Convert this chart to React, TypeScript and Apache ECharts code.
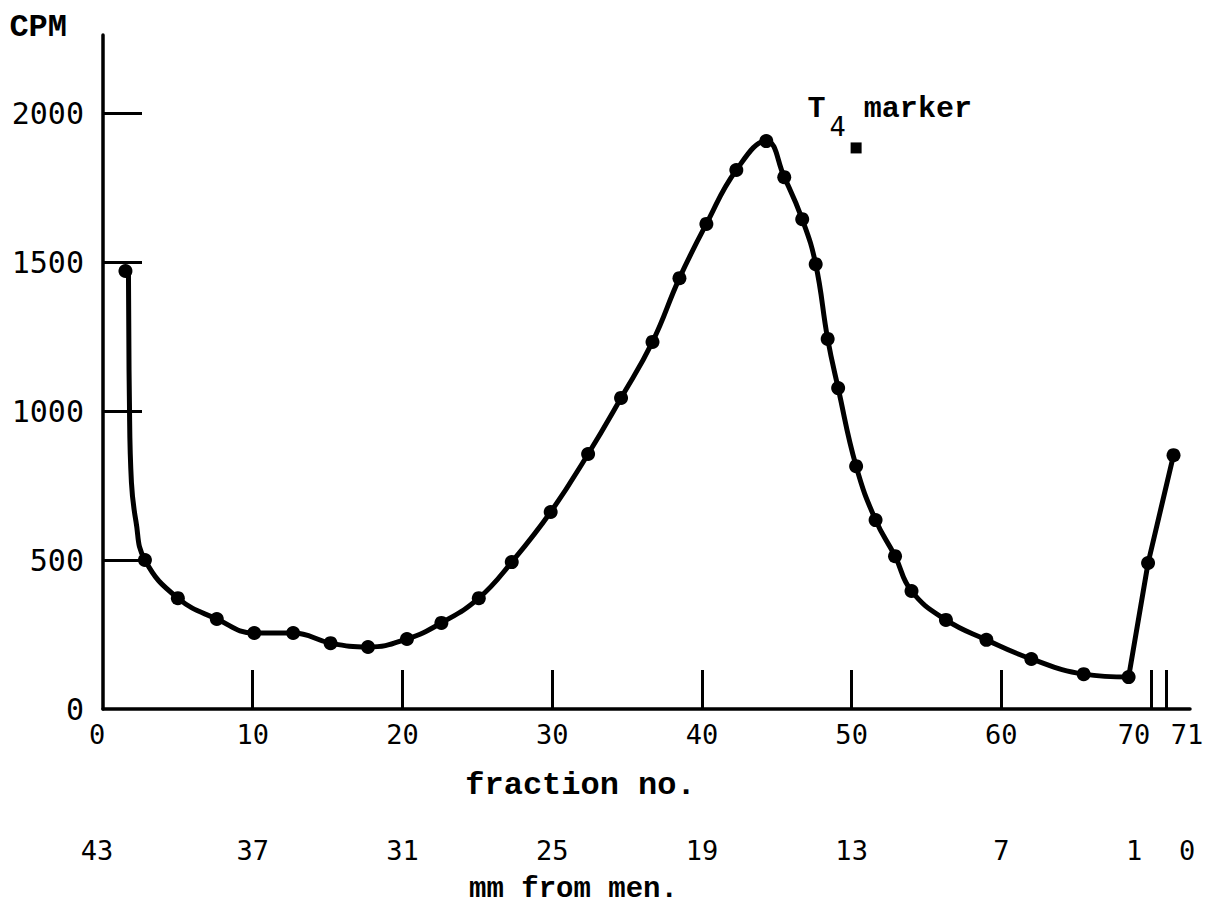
import { useEffect, useRef } from 'react';
import * as echarts from 'echarts';

// Measured data points (fraction no., CPM)
const fractionNo = [1.5, 2.8, 5.0, 7.6, 10.1, 12.7, 15.2, 17.7, 20.3, 22.6, 25.1, 27.3, 29.9, 32.4, 34.6, 36.7, 38.5, 40.3, 42.3, 44.3, 45.5, 46.7, 47.6, 48.4, 49.1, 50.3, 51.6, 52.9, 54.0, 56.3, 59.0, 62.0, 65.5, 68.5, 69.8, 71.5];
const cpm = [1470, 500, 372, 302, 255, 255, 221, 208, 235, 289, 372, 493, 661, 856, 1044, 1232, 1446, 1628, 1809, 1906, 1785, 1644, 1493, 1242, 1077, 815, 634, 513, 396, 299, 232, 168, 117, 107, 490, 852];

// Hand-drawn curve lead-in (the steep drop after fraction 1)
const curveLeadX = [1.7, 1.76, 1.9, 2.2];
const curveLeadY = [1465, 1050, 760, 630];

// T4 marker position
const markerX = [50.3];
const markerY = [1883];

// Axis ticks and labels
const xTickValues = [10, 20, 30, 40, 50, 60, 70, 71];
const xLabelValues = [0, 10, 20, 30, 40, 50, 60, 70, 71];
const xLabels = ['0', '10', '20', '30', '40', '50', '60', '70', '71'];
const mmLabels = ['43', '37', '31', '25', '19', '13', '7', '1', '0'];
const yTickValues = [500, 1000, 1500, 2000];
const yLabelValues = [0, 500, 1000, 1500, 2000];

export default function App() {
  const ref = useRef<HTMLDivElement>(null);

  useEffect(() => {
    if (!ref.current) return;
    const chart = echarts.init(ref.current, undefined, { renderer: 'svg' });

    const points = fractionNo.map((f, i) => [f, cpm[i]]);
    const lead = curveLeadX.map((f, i) => [f, curveLeadY[i]]);
    const lastSmooth = 33; // index of fraction 68.5
    const smoothCurve = [...lead, ...points.slice(1, lastSmooth + 1)];
    const straightTail = points.slice(lastSmooth);

    const numFont = 'DejaVu Sans Mono';
    const textFont = 'Liberation Mono';

    const labelRich = {
      z: { fontFamily: numFont, fontSize: 27, color: '#000', padding: [0, 12, 0, 0] },
      n: { fontFamily: numFont, fontSize: 27, color: '#000' },
      l: { fontFamily: numFont, fontSize: 27, color: '#000', padding: [0, 34, 0, 0] },
      r: { fontFamily: numFont, fontSize: 27, color: '#000', padding: [0, 0, 0, 42] },
    };
    const styleKey = (v: number) => (v === 0 ? 'z' : v === 70 ? 'l' : v === 71 ? 'r' : 'n');

    const option: any = {
      animation: false,
      backgroundColor: '#fff',
      grid: { left: 103, top: 35, width: 1087, height: 674, containLabel: false, outerBoundsMode: 'none' },
      xAxis: [
        {
          type: 'value',
          min: 0,
          max: 72.6,
          position: 'bottom',
          axisLine: { show: true, lineStyle: { color: '#000', width: 3.5 } },
          axisTick: { show: true, inside: true, length: 39, customValues: xTickValues, lineStyle: { color: '#000', width: 3 } },
          axisLabel: {
            show: true,
            customValues: xLabelValues,
            margin: 12,
            formatter: (v: number) => `{${styleKey(v)}|${xLabels[xLabelValues.indexOf(v)]}}`,
            rich: labelRich,
          },
          splitLine: { show: false },
          name: 'fraction no.',
          nameLocation: 'middle',
          nameGap: 60,
          nameTextStyle: { fontFamily: textFont, fontWeight: 'bold', fontSize: 32, color: '#000', padding: [0, 132, 0, 0] },
        },
        {
          type: 'value',
          min: 0,
          max: 72.6,
          position: 'bottom',
          offset: 116,
          axisLine: { show: false },
          axisTick: { show: false },
          axisLabel: {
            show: true,
            customValues: xLabelValues,
            margin: 12,
            formatter: (v: number) => `{${styleKey(v)}|${mmLabels[xLabelValues.indexOf(v)]}}`,
            rich: labelRich,
          },
          splitLine: { show: false },
          name: 'mm from men.',
          nameLocation: 'middle',
          nameGap: 50,
          nameTextStyle: { fontFamily: textFont, fontWeight: 'bold', fontSize: 29, color: '#000', padding: [0, 146, 0, 0] },
        },
      ],
      yAxis: {
        type: 'value',
        min: 0,
        max: 2262,
        axisLine: { show: true, lineStyle: { color: '#000', width: 3.5 } },
        axisTick: { show: true, inside: true, length: 39, customValues: yTickValues, lineStyle: { color: '#000', width: 3 } },
        axisLabel: {
          show: true,
          customValues: yLabelValues,
          margin: 19,
          formatter: (v: number) => String(v),
          fontFamily: numFont,
          fontSize: 30,
          color: '#000',
        },
        splitLine: { show: false },
        name: 'CPM',
        nameLocation: 'end',
        nameGap: -8,
        nameTextStyle: { fontFamily: textFont, fontWeight: 'bold', fontSize: 32, color: '#000', align: 'right', verticalAlign: 'bottom', padding: [0, 36, 0, 0] },
      },
      series: [
        {
          type: 'line',
          data: smoothCurve,
          smooth: 0.45,
          showSymbol: false,
          lineStyle: { color: '#000', width: 5 },
          z: 2,
        },
        {
          type: 'line',
          data: straightTail,
          smooth: false,
          showSymbol: false,
          lineStyle: { color: '#000', width: 5 },
          z: 2,
        },
        {
          type: 'scatter',
          data: points,
          symbol: 'circle',
          symbolSize: 14,
          itemStyle: { color: '#000', opacity: 1 },
          z: 3,
        },
        {
          type: 'scatter',
          data: markerX.map((f, i) => [f, markerY[i]]),
          symbol: 'rect',
          symbolSize: 11,
          itemStyle: { color: '#000', opacity: 1 },
          label: {
            show: true,
            position: [-43, -48],
            formatter: '{t|T}{s|4}{t| marker}',
            rich: {
              t: { fontFamily: textFont, fontWeight: 'bold', fontSize: 30, color: '#000', verticalAlign: 'top' },
              s: { fontFamily: numFont, fontSize: 27, color: '#000', verticalAlign: 'top', padding: [19, 0, 0, 4] },
            },
          },
          z: 3,
        },
      ],
    };

    chart.setOption(option);
    return () => chart.dispose();
  }, []);

  return (
    <div
      ref={ref}
      style={{ position: 'fixed', left: 0, top: 0, width: 1211, height: 908, background: '#fff' }}
    />
  );
}
